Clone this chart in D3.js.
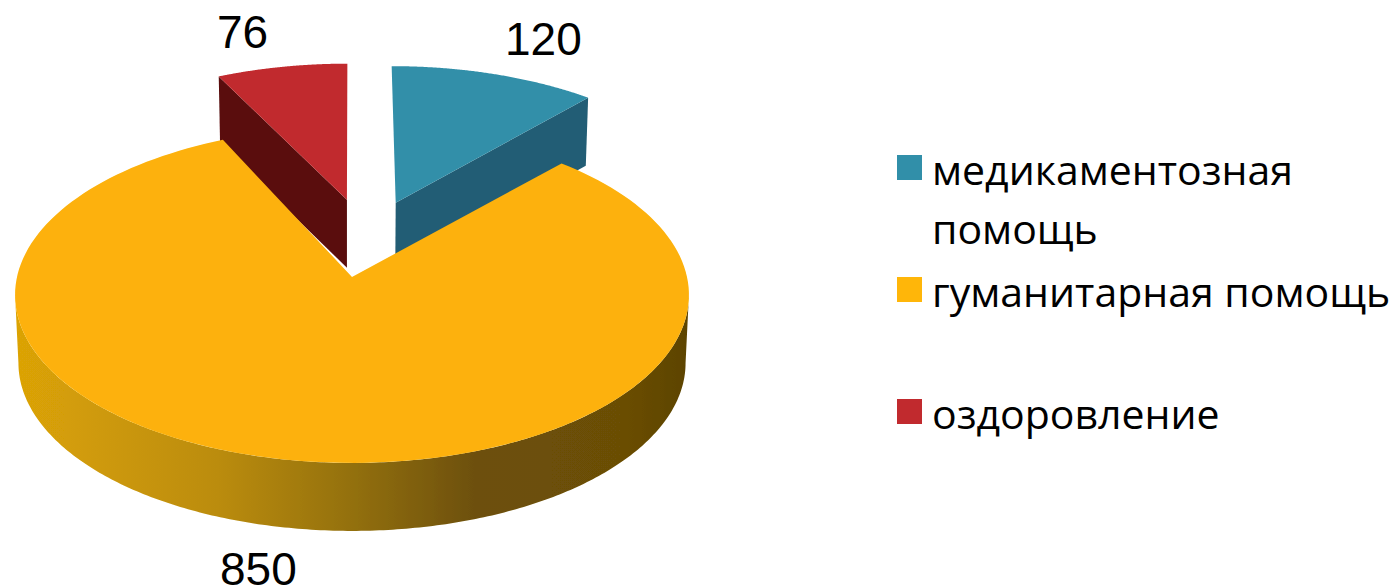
<!DOCTYPE html>
<html><head><meta charset="utf-8">
<style>html,body{margin:0;background:#fff;overflow:hidden}</style>
<script src="https://cdn.jsdelivr.net/npm/d3@7/dist/d3.min.js"></script>
</head><body><svg id="c" width="1397" height="588"></svg>
<script>
const categories = ["медикаментозная помощь", "гуманитарная помощь", "оздоровление"];
const values = [120, 850, 76];
const topColors = ["#318fa9", "#fdb108", "#c12a2e"];
const sideColors = ["#235d74", "#8a6608", "#5a1010"];
const legendLines = [["медикаментозная", "помощь"], ["гуманитарная помощь"], ["оздоровление"]];

// perspective disc projection
const W = {cx: 352, cy: 277, rx: 335, ry: 166, k: 0.107, depth: 68, lowScale: 0.99};
const explode = [[0.137, 0.47], [0, 0], [-0.016, 0.49]];
const faceTurn = [0, 0.02, 0];
const sx = d3.scaleLinear().domain([0, 1]).range([W.cx, W.cx + W.rx]);
const sy = d3.scaleLinear().domain([0, 1]).range([W.cy, W.cy - W.ry]);

function proj(u, v, low) {
  const s = 1 / (1 + W.k * v);
  let x = sx(u * s), y = sy(v * s);
  if (low) { x = W.cx + (x - W.cx) * W.lowScale; y += W.depth; }
  return [x, y];
}
const onRim = (a, o, low) => proj(o[0] + Math.sin(a), o[1] + Math.cos(a), low);
const line = d3.line();
const arcs = d3.pie().sort(null).value(d => d)(values);

const svg = d3.select("#c");
const defs = svg.append("defs");
const blur = defs.append("filter").attr("id", "soft").attr("x", "-2%").attr("y", "-2%").attr("width", "104%").attr("height", "104%");
blur.append("feGaussianBlur").attr("stdDeviation", 0.7);
const grad = defs.append("linearGradient").attr("id", "rimGrad").attr("gradientUnits", "userSpaceOnUse")
  .attr("x1", 15).attr("x2", 690).attr("y1", 0).attr("y2", 0);
[[0, "#dca306"], [0.3, "#bb8c0a"], [0.5, "#93700a"], [0.68, "#6d5008"], [0.9, "#6b4e06"], [1, "#5c4305"]]
  .forEach(([o, c]) => grad.append("stop").attr("offset", o).attr("stop-color", c));

const g = svg.append("g").attr("filter", "url(#soft)");
const sampled = (a0, a1, n = 160) => d3.range(n + 1).map(i => a0 + (a1 - a0) * i / n);

function cutFace(i, a) {
  const o = explode[i];
  const pts = [proj(o[0], o[1]), onRim(a, o), onRim(a, o, true), proj(o[0], o[1], true)];
  g.append("path").attr("d", line(pts) + "Z").attr("fill", sideColors[i]);
}
function topFace(i) {
  const o = explode[i], d = arcs[i], t = faceTurn[i];
  const pts = [proj(o[0], o[1])].concat(sampled(d.startAngle + t, d.endAngle + t).map(a => onRim(a, o)));
  g.append("path").attr("d", line(pts) + "Z").attr("fill", topColors[i]);
}

// exploded slices behind the big one
cutFace(0, arcs[0].endAngle);
topFace(0);
cutFace(2, arcs[2].startAngle);
topFace(2);

// rim of the big slice
const tan = Math.acos(-W.k);
const rimA = sampled(tan, 2 * Math.PI - tan, 240);
const rimPts = rimA.map(a => onRim(a, explode[1])).concat(rimA.slice().reverse().map(a => onRim(a, explode[1], true)));
g.append("path").attr("d", line(rimPts) + "Z").attr("fill", "url(#rimGrad)");
topFace(1);

// data labels
const labels = [
  {t: values[0], x: 505, y: 55},
  {t: values[1], x: 220, y: 585},
  {t: values[2], x: 217, y: 48}
];
svg.selectAll("text.lab").data(labels).join("text").attr("class", "lab")
  .attr("x", d => d.x).attr("y", d => d.y).text(d => d.t)
  .attr("font-family", "Liberation Sans").attr("font-size", 46).attr("fill", "#000");

// legend
const legendY = d3.scalePoint().domain(categories).range([155, 399]);
const leg = svg.selectAll("g.leg").data(categories).join("g").attr("class", "leg");
leg.append("rect").attr("x", 897).attr("y", d => legendY(d)).attr("width", 25).attr("height", 25)
  .attr("fill", (d, i) => topColors[i] === "#fdb108" ? "#ffb609" : topColors[i]);
leg.each(function (d, i) {
  d3.select(this).selectAll("text").data(legendLines[i]).join("text")
    .attr("x", 932).attr("y", (t, j) => legendY(d) + 30 + j * 59).text(t => t)
    .attr("font-family", "Open Sans").attr("font-size", 41).attr("fill", "#000");
});
</script></body></html>
